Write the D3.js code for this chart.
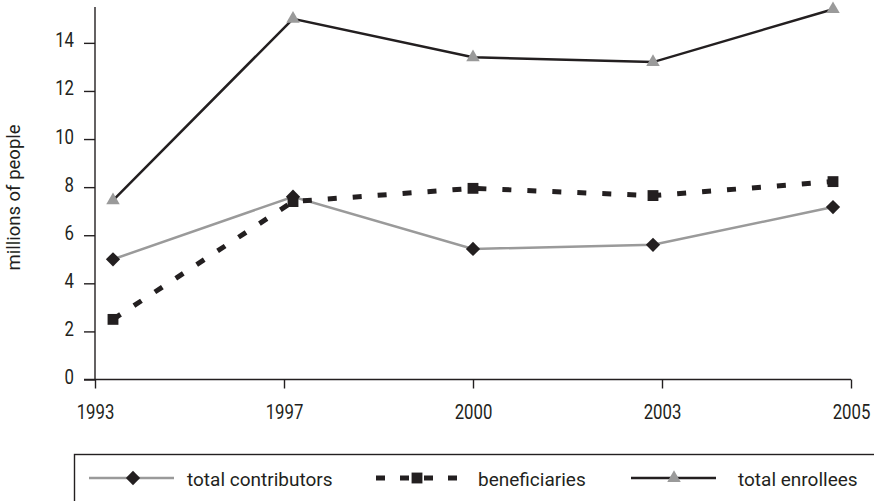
<!DOCTYPE html>
<html>
<head>
<meta charset="utf-8">
<script src="https://cdn.jsdelivr.net/npm/d3@7"></script>
<style>
  body { margin: 0; background: #fff; }
  svg text { font-family: Roboto, "Liberation Sans", sans-serif; fill: #231f20; }
</style>
</head>
<body>
<svg id="chart" width="874" height="501"></svg>
<script>
const years = ['1993', '1997', '2000', '2003', '2005'];
const contributors = [5.0, 7.6, 5.43, 5.6, 7.17];
const beneficiaries = [2.5, 7.4, 7.95, 7.65, 8.23];
const enrollees = [7.45, 15.0, 13.4, 13.2, 15.4];
const yTicks = [0, 2, 4, 6, 8, 10, 12, 14];

const series = [
  {name: 'total contributors', values: contributors, stroke: '#9a9a9a', width: 2.5, dash: null, marker: 'diamond', fill: '#231f20'},
  {name: 'beneficiaries', values: beneficiaries, stroke: '#231f20', width: 5, dash: '9,16', marker: 'square', fill: '#231f20'},
  {name: 'total enrollees', values: enrollees, stroke: '#231f20', width: 2.5, dash: null, marker: 'triangle', fill: '#9a9a9a'}
];

let margin = {left: 95, right: 23, top: 8, bottom: 121};
let W = 874, H = 501;
let squeeze = 0.84; // the digits are a condensed face

const svg = d3.select('#chart');

// ticks sit on the axis ends, data points are pulled in a little
let sxTick = d3.scalePoint().domain(years).range([margin.left, W - margin.right]);
let sx = d3.scalePoint().domain(years).range([margin.left, W - margin.right]).padding(0.1);
let sy = d3.scaleLinear().domain([0, 15.45]).range([H - margin.bottom - 0.5, margin.top]);

const symbols = {
  diamond: d3.symbol().type(d3.symbolDiamond2).size(130),
  square: d3.symbol().type(d3.symbolSquare2).size(150),
  triangle: d3.symbol().type(d3.symbolTriangle2).size(130)
};

// y axis
let yAxis = svg.append('g')
  .attr('transform', `translate(${margin.left},0)`)
  .call(d3.axisLeft(sy).tickValues(yTicks).tickSize(11).tickPadding(10));
yAxis.select('.domain').attr('d', `M0,${margin.top - 1}V${sy(0)}`);
yAxis.selectAll('.tick text')
  .attr('x', -21 / squeeze)
  .attr('dy', '0.2em')
  .attr('transform', `scale(${squeeze},1)`);

// x axis
let xAxis = svg.append('g')
  .attr('transform', `translate(0,${sy(0)})`)
  .call(d3.axisBottom(sxTick).tickSize(9).tickPadding(16.5));
xAxis.select('.domain').attr('d', `M${margin.left - 11},0H${W - margin.right}`);
xAxis.selectAll('.tick text').attr('transform', `scale(${squeeze},1)`);

svg.selectAll('.tick line, .domain').attr('stroke', '#231f20').attr('stroke-width', 1.4);
svg.selectAll('.tick text').attr('font-size', 20).attr('fill', '#231f20');

svg.append('text')
  .attr('transform', 'translate(19.5,197.5) rotate(-90)')
  .attr('text-anchor', 'middle')
  .attr('font-size', 18.5)
  .text('millions of people');

let line = d3.line().x((d, i) => sx(years[i])).y(d => sy(d));

series.forEach(s => {
  svg.append('path')
    .datum(s.values)
    .attr('d', line)
    .attr('fill', 'none')
    .attr('stroke', s.stroke)
    .attr('stroke-width', s.width)
    .attr('stroke-dasharray', s.dash);
});

series.forEach(s => {
  svg.append('g').selectAll('path')
    .data(s.values)
    .join('path')
    .attr('transform', (d, i) => `translate(${sx(years[i])},${sy(d)})`)
    .attr('d', symbols[s.marker])
    .attr('fill', s.fill);
});

// legend
let lg = svg.append('g');
lg.append('rect')
  .attr('x', 74.5).attr('y', 454.5)
  .attr('width', 820).attr('height', 80)
  .attr('fill', 'none').attr('stroke', '#231f20').attr('stroke-width', 1.4);

const legendX = [89, 376, 631];
const markerOff = [44, 41, 43];
const textOff = [98, 102, 107];
series.forEach((s, i) => {
  let g = lg.append('g').attr('transform', `translate(${legendX[i]},478)`);
  g.append('line')
    .attr('x1', 0).attr('x2', 85)
    .attr('stroke', s.stroke)
    .attr('stroke-width', s.width)
    .attr('stroke-dasharray', s.dash ? '9,15' : null);
  g.append('path')
    .attr('transform', `translate(${markerOff[i]},0)`)
    .attr('d', symbols[s.marker])
    .attr('fill', s.fill);
  g.append('text')
    .attr('x', textOff[i])
    .attr('dy', '0.42em')
    .attr('font-size', 19)
    .text(s.name);
});
</script>
</body>
</html>
